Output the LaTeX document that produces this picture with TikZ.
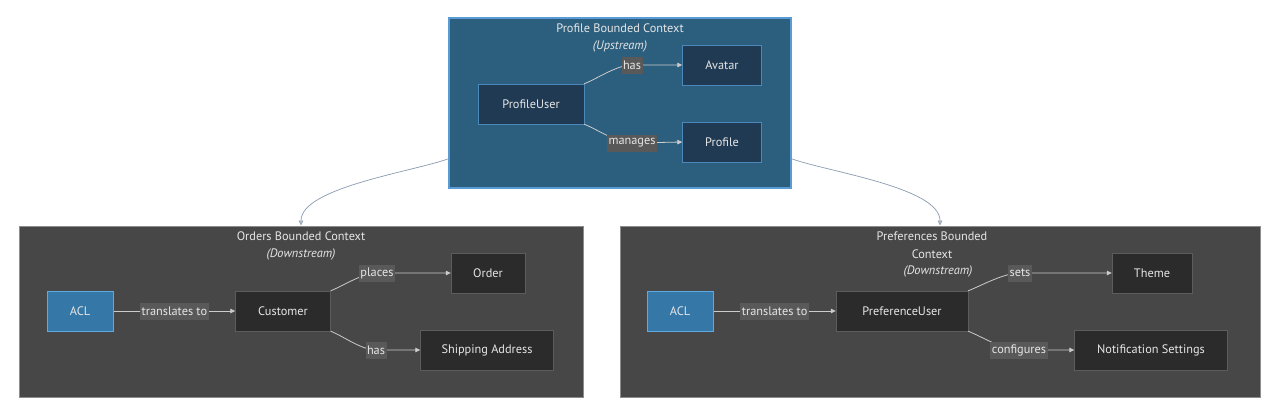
\documentclass[tikz,border=0pt]{standalone}
\usepackage{fontspec}
\setmainfont{PT Sans}
\usetikzlibrary{arrows.meta,positioning}
\definecolor{upfill}{HTML}{2C5F7E}
\definecolor{upline}{HTML}{5A9BD5}
\definecolor{upnode}{HTML}{1F3A52}
\definecolor{upnodeline}{HTML}{4B88BB}
\definecolor{downfill}{HTML}{474747}
\definecolor{downline}{HTML}{8C8C8C}
\definecolor{darknode}{HTML}{2B2B2B}
\definecolor{darkline}{HTML}{5C5C5C}
\definecolor{aclfill}{HTML}{3578A8}
\definecolor{aclline}{HTML}{5FA8E0}
\definecolor{lblfill}{HTML}{595959}
\definecolor{txt}{HTML}{E6E6E6}
\definecolor{edge}{HTML}{CCCCCC}
\definecolor{link}{HTML}{8A9BB0}
\newcommand{\diafont}{\fontsize{12.3}{14}\selectfont}
\tikzset{
  ctxup/.style={draw=upline, line width=1.2pt, fill=upfill, inner sep=0pt},
  ctxdown/.style={draw=downline, line width=1pt, fill=downfill, inner sep=0pt},
  ctxtitle/.style={text=txt, font=\diafont, align=center, inner sep=1pt},
  upentity/.style={draw=upnodeline, fill=upnode, text=txt, font=\diafont, minimum height=40pt, inner sep=0pt},
  entity/.style={draw=darkline, fill=darknode, text=txt, font=\diafont, minimum height=40pt, inner sep=0pt},
  aclbox/.style={draw=aclline, line width=1pt, fill=aclfill, text=txt, font=\diafont, minimum height=40pt, minimum width=66pt, inner sep=0pt},
  lbl/.style={fill=lblfill, text=txt, font=\diafont, inner sep=1.5pt, minimum height=17pt},
  flow/.style={draw=edge, line width=0.8pt, -{Triangle[length=5pt,width=4.5pt]}},
  bend up/.style={out=22, in=180, looseness=0.75},
  bend down/.style={out=-22, in=180, looseness=0.75},
  ctxlink/.style={draw=link, line width=0.7pt, -{Triangle[length=5pt,width=4.5pt,fill=edge]}}
}
\begin{document}
\begin{tikzpicture}[x=1pt, y=-1pt]
  \useasboundingbox[fill=white] (0,0) rectangle (1280,415);

  % upstream context
  \node[ctxup, minimum width=342pt, minimum height=170pt] (profilectx) at (620,103) {};
  \node[ctxtitle] (profiletitle) at (620,28) {Profile Bounded Context};
  \node[ctxtitle, font=\diafont\itshape] (profilesub) at (620,46) {(Upstream)};
  \node[upentity, minimum width=106pt] (profileuser) at (531,104) {ProfileUser};
  \node[upentity, minimum width=79pt] (avatar) at (722,65) {Avatar};
  \node[upentity, minimum width=79pt] (profile) at (722,142) {Profile};
  \draw[flow] (profileuser.north east) to[bend up] (632,65) -- (avatar.west);
  \draw[flow] (profileuser.south east) to[bend down] (632,143) -- (profile.west);
  \node[lbl] (hasavatar) at (632,65) {has};
  \node[lbl] (manages) at (632,143) {manages};

  % orders context
  \node[ctxdown, minimum width=564pt, minimum height=171pt] (ordersctx) at (301,311.5) {};
  \node[ctxtitle] (orderstitle) at (301,236) {Orders Bounded Context};
  \node[ctxtitle, font=\diafont\itshape] (orderssub) at (301,254) {(Downstream)};
  \node[aclbox] (orderacl) at (80,311) {ACL};
  \node[entity, minimum width=95pt] (customer) at (283,311) {Customer};
  \node[entity, minimum width=74pt] (order) at (488,273) {Order};
  \node[entity, minimum width=133pt] (shipping) at (487,350) {Shipping Address};
  \draw[flow] (orderacl) -- node[lbl] {translates to} (customer);
  \draw[flow] (customer.north east) to[bend up] (377,273) -- (order.west);
  \draw[flow] (customer.south east) to[bend down] (376,350) -- (shipping.west);
  \node[lbl] (places) at (377,273) {places};
  \node[lbl] (hasaddress) at (376,350) {has};

  % preferences context
  \node[ctxdown, minimum width=640pt, minimum height=171pt] (prefctx) at (940,311.5) {};
  \node[ctxtitle] (preftitle) at (932,245) {Preferences Bounded\\[4pt]Context};
  \node[ctxtitle, font=\diafont\itshape] (prefsub) at (938,271) {(Downstream)};
  \node[aclbox] (prefacl) at (680,311) {ACL};
  \node[entity, minimum width=132pt] (prefuser) at (902,311) {PreferenceUser};
  \node[entity, minimum width=80pt] (theme) at (1152,273) {Theme};
  \node[entity, minimum width=153pt] (notify) at (1151,350) {Notification Settings};
  \draw[flow] (prefacl) -- node[lbl] {translates to} (prefuser);
  \draw[flow] (prefuser.north east) to[bend up] (1020,273) -- (theme.west);
  \draw[flow] (prefuser.south east) to[bend down] (1019,350) -- (notify.west);
  \node[lbl] (sets) at (1020,273) {sets};
  \node[lbl] (configures) at (1019,350) {configures};

  % context map
  \draw[ctxlink] (profilectx.198) to[out=200,in=90,looseness=0.6] (ordersctx.north);
  \draw[ctxlink] (profilectx.-18) to[out=-20,in=90,looseness=0.6] (prefctx.north);
\end{tikzpicture}
\end{document}
